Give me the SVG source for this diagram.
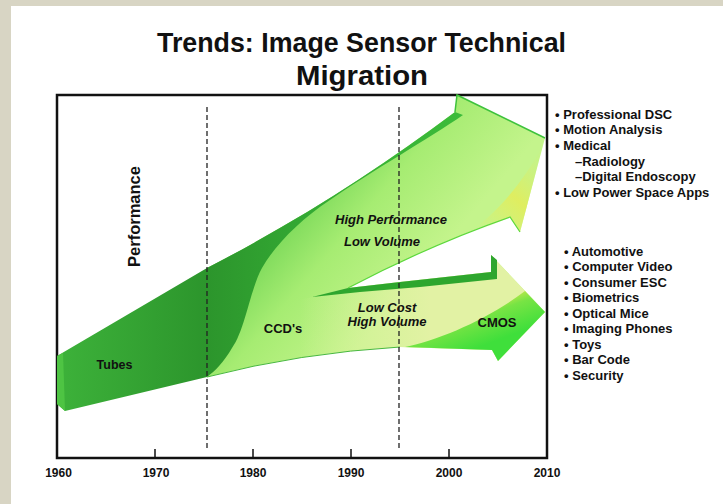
<svg xmlns="http://www.w3.org/2000/svg" width="723" height="504" viewBox="0 0 723 504">
<style>
.lbl{font-family:"Liberation Sans",Arial,sans-serif;font-weight:bold;fill:#111;}
.it{font-style:italic;font-size:13px;text-anchor:middle;}
.yr{font-size:12px;text-anchor:middle;}
.li{font-size:13px;}
.dash{stroke:#222;stroke-width:1.3;stroke-dasharray:5 3;fill:none;}
</style>
<defs>
<linearGradient id="gDark" gradientUnits="userSpaceOnUse" x1="57" y1="0" x2="463" y2="0">
<stop offset="0" stop-color="#3db23a"/><stop offset="0.37" stop-color="#2c952c"/><stop offset="0.6" stop-color="#33a833"/><stop offset="1" stop-color="#3cbc3a"/>
</linearGradient>
<linearGradient id="gBody" gradientUnits="userSpaceOnUse" x1="250" y1="190" x2="390" y2="310">
<stop offset="0" stop-color="#55c844"/><stop offset="0.55" stop-color="#a6ec72"/><stop offset="1" stop-color="#c4f48c"/>
</linearGradient>
<linearGradient id="gLow" gradientUnits="userSpaceOnUse" x1="300" y1="0" x2="430" y2="0">
<stop offset="0" stop-color="#e2f2a4" stop-opacity="0"/><stop offset="1" stop-color="#e2f2a4" stop-opacity="1"/>
</linearGradient>
<linearGradient id="gCmos" gradientUnits="userSpaceOnUse" x1="470" y1="305" x2="485" y2="345">
<stop offset="0" stop-color="#d6e94e"/><stop offset="0.35" stop-color="#78e444"/><stop offset="1" stop-color="#3fdf3b"/>
</linearGradient>
<linearGradient id="gYel" gradientUnits="userSpaceOnUse" x1="480" y1="230" x2="545" y2="160">
<stop offset="0" stop-color="#e8ef5a" stop-opacity="0"/><stop offset="0.5" stop-color="#e6ec55" stop-opacity="0.8"/><stop offset="1" stop-color="#cdf07a" stop-opacity="0.15"/>
</linearGradient>
</defs>

<g id="background">
<rect x="0" y="0" width="723" height="504" fill="#d8d5c4"/>
<rect x="11" y="6" width="712" height="498" fill="#ffffff"/>
</g>

<g id="title" class="lbl">
<text x="361.5" y="52" font-size="28" text-anchor="middle" textLength="409" lengthAdjust="spacingAndGlyphs">Trends: Image Sensor Technical</text>
<text x="362" y="85" font-size="28" text-anchor="middle" textLength="132" lengthAdjust="spacingAndGlyphs">Migration</text>
</g>

<g id="axes">
<rect x="57" y="95" width="490" height="363" fill="none" stroke="#111" stroke-width="2.5"/>
<path d="M155,449V458M253,449V458M351,449V458M449,449V458" stroke="#111" stroke-width="1.5"/>
</g>

<g id="trend-shapes">
<path id="body" d="M207,268 C300,220 380,168 455,112 L457,95 L545,138 L520,232 L510,217 Q430,245 348,288 L400,282 L491,272 L491,255 L545,312 L498,361 L492,350 L400,347 Q300,353 207,377 Z" fill="url(#gBody)"/>
<path id="low-cost" d="M300,300 L348,288 L400,282 L491,272 L491,255 L545,312 L498,361 L492,350 L400,347 Q350,350 300,357 Z" fill="url(#gLow)"/>
<path id="cmos" d="M405,347 C440,340 490,318 525,291 L545,312 L498,361 L492,350 Z" fill="url(#gCmos)"/>
<path id="head-yellow" d="M543,145 L520,232 L510,217 Q485,228 462,238 C495,215 522,185 543,145 Z" fill="url(#gYel)"/>
<path id="tubes" d="M57,356 L207,268 C300,220 380,168 455,112 L463,115 C430,138 370,172 330,200 C300,220 275,245 262,268 C250,290 245,330 232,348 C224,362 215,371 207,377 L65,411 L57,404 Z" fill="url(#gDark)"/>
<path id="tubes-side" d="M57,356 L63,353 L65,411 L57,404 Z" fill="#4ec443"/>
<path id="low-strip" d="M312,297 L348,288 L400,282 L491,272 L491,255 L497,260 L497,279 L420,287 L360,292 Z" fill="#2ea62e"/>
<path d="M455,112 L457,95 L545,138" stroke="#3ec23c" stroke-width="1.5" fill="none"/>
<path d="M520,232 L510,217 Q430,245 348,288" stroke="#5cd83c" stroke-width="1.2" fill="none"/>
<path d="M207,377 Q300,353 400,347" stroke="#48b840" stroke-width="1" fill="none"/>
</g>

<g id="dividers">
<line class="dash" x1="207" y1="107" x2="207" y2="448"/>
<line class="dash" x1="399" y1="107" x2="399" y2="448"/>
</g>

<g id="labels" class="lbl">
<text x="139.5" y="216.5" font-size="16.5" text-anchor="middle" transform="rotate(-90 139.5 216.5)">Performance</text>
<text x="114.5" y="369" font-size="12.5" text-anchor="middle">Tubes</text>
<text x="283" y="333" font-size="13" text-anchor="middle">CCD's</text>
<text class="it" x="391" y="224">High Performance</text>
<text class="it" x="382" y="246">Low Volume</text>
<text class="it" x="387" y="312">Low Cost</text>
<text class="it" x="387" y="326">High Volume</text>
<text x="497" y="327" font-size="13" text-anchor="middle">CMOS</text>
</g>

<g id="years" class="lbl">
<text class="yr" x="58.5" y="477">1960</text>
<text class="yr" x="156" y="477">1970</text>
<text class="yr" x="253" y="477">1980</text>
<text class="yr" x="351" y="477">1990</text>
<text class="yr" x="449" y="477">2000</text>
<text class="yr" x="547" y="477">2010</text>
</g>

<g id="high-perf-apps" class="lbl li">
<text x="555" y="118.5">• Professional DSC</text>
<text x="555" y="134">• Motion Analysis</text>
<text x="555" y="149.5">• Medical</text>
<text x="575" y="165.5">–Radiology</text>
<text x="575" y="181">–Digital Endoscopy</text>
<text x="555" y="196.5">• Low Power Space Apps</text>
</g>

<g id="low-cost-apps" class="lbl li">
<text x="564" y="255.5">• Automotive</text>
<text x="564" y="271">• Computer Video</text>
<text x="564" y="286.5">• Consumer ESC</text>
<text x="564" y="302">• Biometrics</text>
<text x="564" y="317.5">• Optical Mice</text>
<text x="564" y="333">• Imaging Phones</text>
<text x="564" y="348.5">• Toys</text>
<text x="564" y="364">• Bar Code</text>
<text x="564" y="379.5">• Security</text>
</g>
</svg>
